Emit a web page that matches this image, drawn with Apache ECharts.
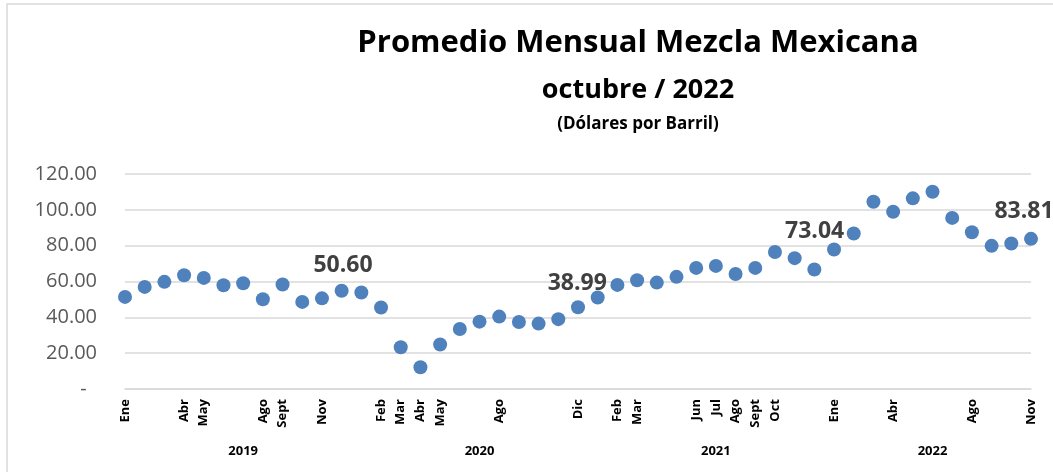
<!DOCTYPE html>
<html>
<head>
<meta charset="utf-8">
<script src="https://cdn.jsdelivr.net/npm/echarts@6/dist/echarts.min.js"></script>
<style>
  html, body { margin: 0; padding: 0; background: #fff; }
  #chart { width: 1053px; height: 472px; }
</style>
</head>
<body>
<div id="chart"></div>
<script>
  // meses de Ene 2019 a Nov 2022
  const meses = [
    'Ene','Feb','Mar','Abr','May','Jun','Jul','Ago','Sept','Oct','Nov','Dic',
    'Ene','Feb','Mar','Abr','May','Jun','Jul','Ago','Sept','Oct','Nov','Dic',
    'Ene','Feb','Mar','Abr','May','Jun','Jul','Ago','Sept','Oct','Nov','Dic',
    'Ene','Feb','Mar','Abr','May','Jun','Jul','Ago','Sept','Oct','Nov'
  ];
  // solo estos meses llevan etiqueta en el eje
  const mesesVisibles = [0, 3, 4, 7, 8, 10, 13, 14, 15, 16, 19, 23, 25, 26, 29, 30, 31, 32, 33, 36, 39, 43, 46];
  const anios = ['2019', '2020', '2021', '2022'];
  const posAnios = [6, 18, 30, 41];

  const precios = [
    51.4, 57.0, 59.8, 63.5, 62.0, 57.9, 59.0, 50.1, 58.3, 48.6, 50.60, 54.8,
    53.9, 45.5, 23.3, 12.1, 24.8, 33.5, 37.6, 40.4, 37.4, 36.5, 38.99, 45.6,
    51.1, 58.1, 60.7, 59.4, 62.6, 67.6, 68.7, 64.2, 67.6, 76.5, 73.04, 66.7,
    77.9, 86.8, 104.5, 98.9, 106.4, 110.1, 95.5, 87.5, 79.9, 81.2, 83.81
  ];

  // indices con etiqueta de valor y su desplazamiento
  const etiquetas = { 10: [21, -33], 22: [19, -36], 34: [20, -27], 46: [-7, -27] };

  const chart = echarts.init(document.getElementById('chart'));

  const datos = precios.map((v, i) => {
    if (etiquetas[i]) {
      return {
        value: v,
        label: {
          show: true,
          position: 'inside',
          offset: etiquetas[i],
          formatter: (p) => p.value.toFixed(2),
          fontFamily: 'Open Sans',
          fontWeight: 'bold',
          fontSize: 23,
          color: '#404040'
        }
      };
    }
    return v;
  });

  const anioPorMes = meses.map((m, i) => {
    const k = posAnios.indexOf(i);
    return k >= 0 ? anios[k] : '';
  });

  const option = {
    animation: false,
    graphic: [
      {
        type: 'rect',
        shape: { x: 7, y: 4, width: 1100, height: 520 },
        style: { fill: 'none', stroke: '#d9d9d9', lineWidth: 1.5 },
        silent: true
      },
      {
        type: 'text', x: 638, y: 43,
        style: { text: 'Promedio Mensual Mezcla Mexicana', textAlign: 'center', textVerticalAlign: 'middle',
          fontFamily: 'Open Sans', fontWeight: 'bold', fontSize: 31, fill: '#000' }
      },
      {
        type: 'text', x: 638, y: 90,
        style: { text: 'octubre / 2022', textAlign: 'center', textVerticalAlign: 'middle',
          fontFamily: 'Open Sans', fontWeight: 'bold', fontSize: 27, fill: '#000' }
      },
      {
        type: 'text', x: 638, y: 124,
        style: { text: '(Dólares por Barril)', textAlign: 'center', textVerticalAlign: 'middle',
          fontFamily: 'Open Sans', fontWeight: 'bold', fontSize: 17, fill: '#000' }
      }
    ],
    grid: {
      left: 125,
      right: 22,
      top: 174,
      bottom: 83
    },
    xAxis: [
      {
        type: 'category',
        data: meses,
        boundaryGap: false,
        axisLine: { lineStyle: { color: '#d9d9d9', width: 1.5 } },
        axisTick: { show: false },
        axisLabel: {
          interval: (idx) => mesesVisibles.indexOf(idx) >= 0,
          rotate: 90,
          margin: 10,
          fontFamily: 'Open Sans',
          fontWeight: 'bold',
          fontSize: 13,
          color: '#000'
        }
      },
      {
        type: 'category',
        data: anioPorMes,
        boundaryGap: false,
        position: 'bottom',
        offset: 48,
        axisLine: { show: false },
        axisTick: { show: false },
        axisLabel: {
          interval: 0,
          margin: 8,
          fontFamily: 'Open Sans',
          fontWeight: 'bold',
          fontSize: 13,
          color: '#000'
        }
      }
    ],
    yAxis: {
      type: 'value',
      min: 0,
      max: 120,
      interval: 20,
      axisLine: { show: false },
      axisTick: { show: false },
      splitLine: { lineStyle: { color: '#d9d9d9', width: 1.5 } },
      axisLabel: {
        margin: 28,
        fontFamily: 'Open Sans',
        fontSize: 20,
        color: '#595959',
        formatter: (v) => v === 0 ? '-  ' : v.toFixed(2)
      }
    },
    series: [
      {
        name: 'Mezcla Mexicana',
        type: 'scatter',
        xAxisIndex: 0,
        symbol: 'circle',
        symbolSize: 14,
        itemStyle: { color: '#4f81bd', opacity: 1 },
        data: datos
      }
    ]
  };

  chart.setOption(option);
  window.addEventListener('resize', function () {
    chart.resize();
  });
</script>
</body>
</html>
